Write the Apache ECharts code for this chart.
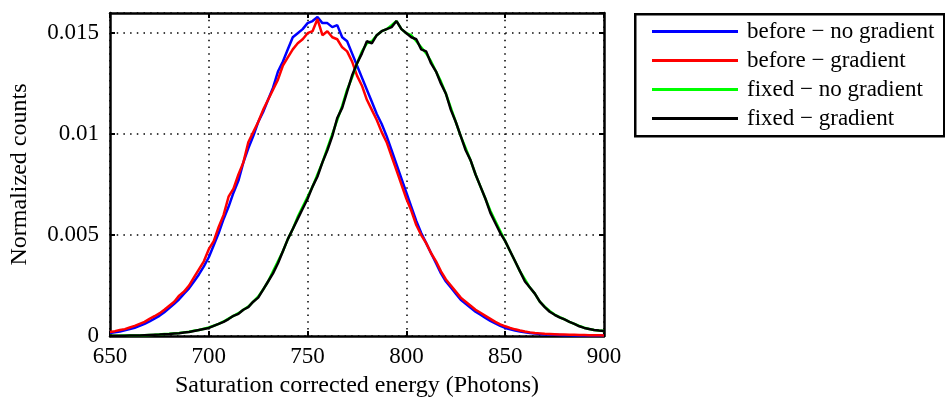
<!DOCTYPE html>
<html>
<head>
<meta charset="utf-8">
<script src="https://cdn.jsdelivr.net/npm/echarts@6/dist/echarts.min.js"></script>
<style>html,body{margin:0;padding:0;background:#fff}#c{width:945px;height:403px}</style>
</head>
<body>
<div id="c"></div>
<script>
// x positions (Photons), step 2.5 from 650 to 900
const energy = [];
for (let i = 0; i <= 100; i++) energy.push(650 + i * 2.5);

const xTicks = [650, 700, 750, 800, 850, 900];
const yTicks = [0, 0.005, 0.01, 0.015];

const seriesNames = ['before \u2212 no gradient', 'before \u2212 gradient', 'fixed \u2212 no gradient', 'fixed \u2212 gradient'];

const beforeNoGradient = [
0.00015,0.00018,0.00022,0.00028,0.00034,0.00041,0.0005,0.0006,0.00072,0.00086,
0.001,0.00118,0.00138,0.0016,0.00182,0.0021,0.00236,0.0027,0.00305,0.00345,
0.0039,0.0045,0.0051,0.0058,0.0064,0.0071,0.0077,0.0086,0.0093,0.0099,
0.0106,0.0111,0.0117,0.0123,0.0131,0.0136,0.0142,0.0148,0.0150,0.0152,
0.0155,0.0156,0.0158,0.0155,0.0155,0.0153,0.0154,0.0148,0.0146,0.0140,
0.0134,0.0128,0.0122,0.0116,0.0110,0.0105,0.0099,0.0092,0.0085,0.0078,
0.0071,0.0064,0.0057,0.0051,0.0046,0.0041,0.0036,0.0031,0.0027,0.0024,
0.0021,0.0018,0.0016,0.0014,0.0012,0.00105,0.0009,0.00075,0.00062,0.0005,
0.0004,0.00033,0.00027,0.00022,0.00018,0.00015,0.00012,0.0001,0.00008,0.00007,
0.00006,0.00005,0.00004,0.00004,0.00003,0.00003,0.00003,0.00002,0.00002,0.00002,
0.00002];

const beforeGradient = [
0.0002,0.00024,0.0003,0.00034,0.00042,0.0005,0.0006,0.0007,0.00085,0.00098,
0.00112,0.0013,0.0015,0.0017,0.002,0.0022,0.0025,0.0029,0.0033,0.0037,
0.0043,0.0047,0.0054,0.006,0.0069,0.0073,0.008,0.0086,0.0096,0.0101,
0.0106,0.0112,0.0117,0.0122,0.0127,0.0134,0.0138,0.0142,0.0145,0.0147,
0.0150,0.0151,0.0157,0.0149,0.0151,0.0148,0.0147,0.0143,0.0141,0.0136,
0.0129,0.0124,0.0117,0.0112,0.0107,0.0101,0.0096,0.0089,0.0082,0.0075,
0.0068,0.0062,0.0055,0.0050,0.0046,0.0041,0.0037,0.0032,0.0028,0.0025,
0.0022,0.0019,0.0017,0.0015,0.0013,0.00115,0.001,0.00085,0.0007,0.00058,
0.00048,0.0004,0.00033,0.00027,0.00022,0.00018,0.00015,0.00013,0.00011,0.0001,
0.00009,0.00008,0.00007,0.00006,0.00006,0.00005,0.00005,0.00004,0.00004,0.00004,
0.00003];

const fixedNoGradient = [
0.00001,0.00001,0.00001,0.00002,0.00002,0.00002,0.00003,0.00004,0.00005,0.00006,
0.00008,0.0001,0.00011,0.00013,0.00015,0.00018,0.00021,0.00026,0.0003,0.00036,
0.00042,0.00051,0.0006,0.00072,0.00086,0.001,0.00113,0.0013,0.00146,0.0017,
0.00195,0.0023,0.0027,0.0032,0.0037,0.0042,0.0048,0.0053,0.0059,0.0064,
0.0069,0.0074,0.0080,0.0086,0.0093,0.0100,0.0107,0.0114,0.0122,0.0128,
0.0135,0.0141,0.0145,0.0146,0.0149,0.0151,0.0152,0.0154,0.0156,0.0152,
0.0150,0.0149,0.0146,0.0143,0.0140,0.0136,0.0131,0.0126,0.0120,0.0113,
0.0106,0.0099,0.0093,0.0087,0.0080,0.0074,0.0068,0.0062,0.0057,0.0052,
0.0047,0.0042,0.0037,0.0032,0.0028,0.0024,0.0021,0.0017,0.00145,0.00124,
0.00106,0.00093,0.00083,0.0007,0.0006,0.0005,0.00041,0.00035,0.0003,0.00027,
0.00025];

const fixedGradient = [
0.00001,0.00001,0.00001,0.00001,0.00002,0.00002,0.00003,0.00004,0.00005,0.00006,
0.00007,0.00009,0.0001,0.00012,0.00014,0.00017,0.0002,0.00025,0.0003,0.00035,
0.0004,0.0005,0.0006,0.0007,0.00084,0.001,0.0011,0.0013,0.00143,0.0017,
0.0019,0.0023,0.0027,0.0031,0.0036,0.0042,0.0048,0.0053,0.0058,0.0063,
0.0068,0.0074,0.0079,0.0086,0.0092,0.0099,0.0108,0.0113,0.0121,0.0129,
0.0135,0.0140,0.0146,0.0145,0.0149,0.0151,0.0152,0.0153,0.0156,0.0152,
0.0150,0.0148,0.0147,0.0142,0.0141,0.0135,0.0131,0.0125,0.0120,0.0112,
0.0106,0.0099,0.0092,0.0087,0.0080,0.0074,0.0068,0.0061,0.0056,0.0051,
0.0047,0.0042,0.0037,0.0032,0.0027,0.0024,0.0021,0.0017,0.00143,0.0012,
0.00105,0.00092,0.00082,0.0007,0.0006,0.00048,0.0004,0.00035,0.0003,0.00027,
0.00025];

const colors = ['#0000ff', '#ff0000', '#00ff00', '#000000'];
const allSeries = [beforeNoGradient, beforeGradient, fixedNoGradient, fixedGradient];

const FONT = '"Liberation Serif", "Times New Roman", serif';
const FS = 23;
const FSN = 24;
const chart = echarts.init(document.getElementById('c'), null, {renderer: 'canvas'});

const gridSplit = {show: true, lineStyle: {color: '#000', width: 1.5, type: [1.5, 5.2]}};

chart.setOption({
  animation: false,
  backgroundColor: '#fff',
  grid: {left: 109, right: 341, top: 13, bottom: 66, containLabel: false},
  xAxis: [{
    type: 'value', min: 650, max: 900, interval: 50, position: 'bottom',
    axisLine: {show: true, onZero: false, lineStyle: {color: '#000', width: 2.5}},
    axisTick: {show: true, inside: true, length: 5, lineStyle: {color: '#000', width: 2}},
    axisLabel: {color: '#000', fontFamily: FONT, fontSize: FS, margin: 9,
      formatter: v => xTicks.includes(v) ? String(v) : ''},
    splitLine: gridSplit,
    name: 'Saturation corrected energy (Photons)', nameLocation: 'middle', nameGap: 38,
    nameTextStyle: {color: '#000', fontFamily: FONT, fontSize: FSN}
  }, {
    type: 'value', min: 650, max: 900, interval: 50, position: 'top',
    axisLine: {show: true, onZero: false, lineStyle: {color: '#000', width: 2.5}},
    axisTick: {show: true, inside: true, length: 5, lineStyle: {color: '#000', width: 2}},
    axisLabel: {show: false}, splitLine: {show: false}
  }],
  yAxis: [{
    type: 'value', min: 0, max: 0.016, interval: 0.005, position: 'left',
    axisLine: {show: true, onZero: false, lineStyle: {color: '#000', width: 2.5}},
    axisTick: {show: true, inside: true, length: 5, lineStyle: {color: '#000', width: 2}},
    axisLabel: {color: '#000', fontFamily: FONT, fontSize: FS, margin: 11, showMaxLabel: false,
      formatter: v => { const t = yTicks.find(k => Math.abs(k - v) < 1e-9); return t === undefined ? '' : String(t); }},
    splitLine: gridSplit,
    name: 'Normalized counts', nameLocation: 'middle', nameGap: 78,
    nameTextStyle: {color: '#000', fontFamily: FONT, fontSize: FSN}
  }, {
    type: 'value', min: 0, max: 0.016, interval: 0.005, position: 'right',
    axisLine: {show: true, onZero: false, lineStyle: {color: '#000', width: 2.5}},
    axisTick: {show: true, inside: true, length: 5, lineStyle: {color: '#000', width: 2}},
    axisLabel: {show: false}, splitLine: {show: false}
  }],
  legend: {
    orient: 'vertical', left: 652, top: 20, padding: 0, itemGap: 6,
    itemWidth: 86, itemHeight: 3, icon: 'rect',
    textStyle: {color: '#000', fontFamily: FONT, fontSize: FS, padding: [0, 0, 0, 4]},
    data: seriesNames
  },
  graphic: [{
    type: 'rect', left: 634, top: 13, z: -1,
    shape: {width: 309, height: 122},
    style: {fill: '#fff', stroke: '#000', lineWidth: 2.5}
  }],
  series: allSeries.map((vals, i) => ({
    name: seriesNames[i], type: 'line', showSymbol: false, symbol: 'none',
    xAxisIndex: 0, yAxisIndex: 0, z: 2 + i,
    itemStyle: {color: colors[i]},
    lineStyle: {color: colors[i], width: 2.5},
    data: energy.map((x, j) => [x, vals[j]])
  }))
});
</script>
</body>
</html>
